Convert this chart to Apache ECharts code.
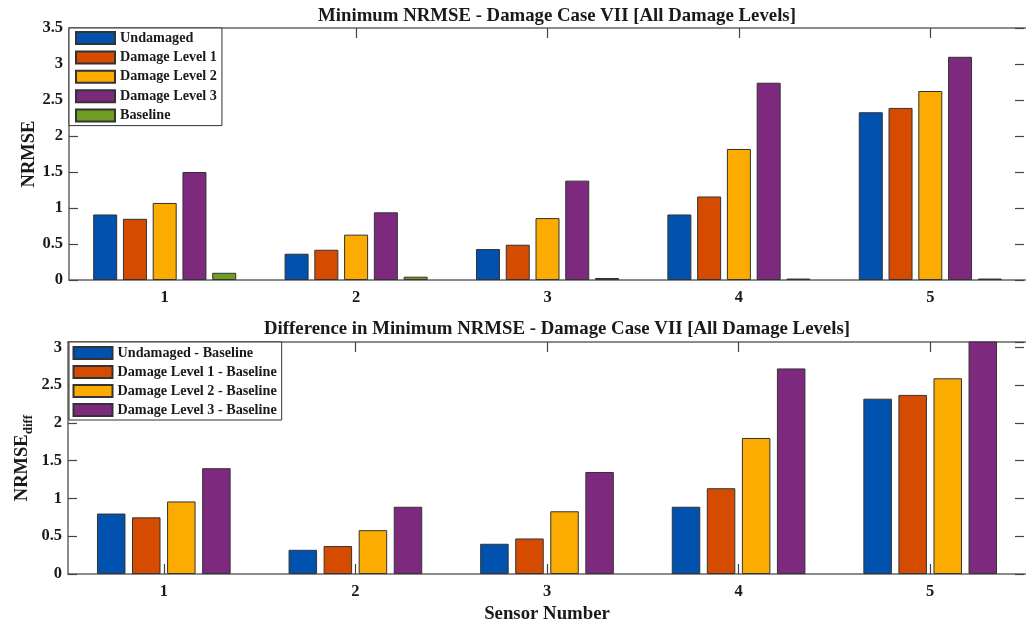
<!DOCTYPE html>
<html><head><meta charset="utf-8">
<script src="https://cdn.jsdelivr.net/npm/echarts@6/dist/echarts.min.js"></script>
<style>html,body{margin:0;padding:0;background:#fff}#c{width:1026px;height:625px}</style>
</head><body><div id="c"></div>
<script>
// ---- data ----
const sensors = ['1', '2', '3', '4', '5'];
const topTickLabels = ['0', '0.5', '1', '1.5', '2', '2.5', '3', '3.5'];
const bottomTickLabels = ['0', '0.5', '1', '1.5', '2', '2.5', '3'];

const topNames = ['Undamaged', 'Damage Level 1', 'Damage Level 2', 'Damage Level 3', 'Baseline'];
const undamaged = [0.91, 0.365, 0.43, 0.91, 2.33];
const damage1 = [0.85, 0.42, 0.49, 1.16, 2.39];
const damage2 = [1.07, 0.63, 0.86, 1.82, 2.625];
const damage3 = [1.50, 0.94, 1.38, 2.74, 3.10];
const baseline = [0.10, 0.046, 0.028, 0.02, 0.02];

const bottomNames = ['Undamaged - Baseline', 'Damage Level 1 - Baseline', 'Damage Level 2 - Baseline', 'Damage Level 3 - Baseline'];
const diffUndamaged = [0.80, 0.32, 0.40, 0.89, 2.32];
const diffDamage1 = [0.75, 0.37, 0.47, 1.135, 2.37];
const diffDamage2 = [0.96, 0.58, 0.83, 1.80, 2.59];
const diffDamage3 = [1.40, 0.89, 1.35, 2.72, 3.08];

// ---- styles ----
const colors = ['#0151AE', '#D54C00', '#FCAC00', '#7D2A7E', '#6E9E22'];
const FONT = '"Liberation Serif", "Times New Roman", serif';
const axisColor = '#666';
const textColor = '#1a1a1a';

function yAxisPair(gridIndex, max, ticks, nameCfg) {
  const fmt = v => { const s = String(+v.toFixed(2)); return ticks.indexOf(s) >= 0 ? s : ''; };
  return [
    Object.assign({
      type: 'value', gridIndex, min: 0, max, interval: 0.5, position: 'left',
      nameMoveOverlap: false,
      axisLine: { show: true, lineStyle: { color: axisColor, width: 1.5 } },
      axisTick: { show: true, inside: true, length: 9, lineStyle: { color: '#444', width: 1.2 } },
      axisLabel: { formatter: fmt, margin: 6, color: textColor, fontFamily: FONT, fontWeight: 'bold', fontSize: 16.5 },
      splitLine: { show: false }
    }, nameCfg),
    {
      type: 'value', gridIndex, min: 0, max, interval: 0.5, position: 'right', offset: -2,
      axisLine: { show: false },
      axisTick: { show: true, inside: true, length: 9, lineStyle: { color: '#444', width: 1.2 } },
      axisLabel: { show: false }, splitLine: { show: false }
    }
  ];
}
function xAxisPair(gridIndex, nameCfg) {
  return [
    Object.assign({
      type: 'category', gridIndex, data: sensors, position: 'bottom',
      nameMoveOverlap: false,
      axisLine: { show: true, onZero: false, lineStyle: { color: axisColor, width: 1.5 } },
      axisTick: { show: true, inside: true, alignWithLabel: true, length: 10, lineStyle: { color: '#444', width: 1.2 } },
      axisLabel: { margin: 9, color: textColor, fontFamily: FONT, fontWeight: 'bold', fontSize: 16.5 }
    }, nameCfg),
    {
      type: 'category', gridIndex, data: sensors, position: 'top',
      axisLine: { show: true, onZero: false, lineStyle: { color: axisColor, width: 1.5 } },
      axisTick: { show: true, inside: true, alignWithLabel: true, length: 10, lineStyle: { color: '#444', width: 1.2 } },
      axisLabel: { show: false }
    }
  ];
}

const yNameStyle = { color: textColor, fontFamily: FONT, fontWeight: 'bold', fontSize: 18.5 };

const option = {
  backgroundColor: '#fff',
  animation: false,
  title: [
    { text: 'Minimum NRMSE - Damage Case VII [All Damage Levels]', left: 552, top: 2, textAlign: 'center',
      textStyle: { color: textColor, fontFamily: FONT, fontWeight: 'bold', fontSize: 18.8 } },
    { text: 'Difference in Minimum NRMSE - Damage Case VII [All Damage Levels]', left: 552, top: 315, textAlign: 'center',
      textStyle: { color: textColor, fontFamily: FONT, fontWeight: 'bold', fontSize: 18.8 } }
  ],
  grid: [
    { left: 69, top: 28, width: 967, height: 252 },
    { left: 68, top: 342, width: 970, height: 233 }
  ],
  legend: [
    { orient: 'vertical', left: 69, top: 28, data: topNames, icon: 'rect',
      backgroundColor: '#fff', borderColor: '#333', borderWidth: 1, borderRadius: 0,
      padding: [3, 5, 3, 6], itemWidth: 39, itemHeight: 12, itemGap: 5.4, itemTextGap: 4,
      textStyle: { color: textColor, fontFamily: FONT, fontWeight: 'bold', fontSize: 14.2, lineHeight: 12 } },
    { orient: 'vertical', left: 69, top: 342, data: bottomNames, icon: 'rect',
      backgroundColor: '#fff', borderColor: '#333', borderWidth: 1, borderRadius: 0,
      padding: [4, 5, 3, 3.5], itemWidth: 39, itemHeight: 12, itemGap: 5, itemTextGap: 4,
      textStyle: { color: textColor, fontFamily: FONT, fontWeight: 'bold', fontSize: 14.2, lineHeight: 12 } }
  ],
  xAxis: [].concat(
    xAxisPair(0, {}),
    xAxisPair(1, { name: 'Sensor Number', nameLocation: 'middle', nameGap: 31,
      nameTextStyle: { color: textColor, fontFamily: FONT, fontWeight: 'bold', fontSize: 18.8 } })
  ),
  yAxis: [].concat(
    yAxisPair(0, 3.5, topTickLabels, { name: 'NRMSE', nameLocation: 'middle', nameGap: 30, nameTextStyle: yNameStyle }),
    yAxisPair(1, 3.07, bottomTickLabels, { name: '{a|NRMSE}{b|diff}', nameLocation: 'middle', nameGap: 33,
      nameTextStyle: { color: textColor, fontFamily: FONT, fontWeight: 'bold',
        rich: {
          a: { fontFamily: FONT, fontWeight: 'bold', fontSize: 18.5, color: textColor, lineHeight: 26, verticalAlign: 'middle' },
          b: { fontFamily: FONT, fontWeight: 'bold', fontSize: 13, color: textColor, lineHeight: 13, verticalAlign: 'bottom' }
        } } })
  ),
  series: []
};

const topData = [undamaged, damage1, damage2, damage3, baseline];
topData.forEach((d, i) => option.series.push({
  type: 'bar', name: topNames[i], xAxisIndex: 0, yAxisIndex: 0, data: d,
  barWidth: 24, barGap: '24%',
  itemStyle: { color: colors[i], borderColor: '#333', borderWidth: 1 }
}));
const bottomData = [diffUndamaged, diffDamage1, diffDamage2, diffDamage3];
bottomData.forEach((d, i) => option.series.push({
  type: 'bar', name: bottomNames[i], xAxisIndex: 2, yAxisIndex: 2, data: d,
  barWidth: 28.5, barGap: '23%',
  itemStyle: { color: colors[i], borderColor: '#333', borderWidth: 1 }
}));

const chart = echarts.init(document.getElementById('c'), null, { renderer: 'canvas' });
chart.setOption(option);
</script></body></html>
